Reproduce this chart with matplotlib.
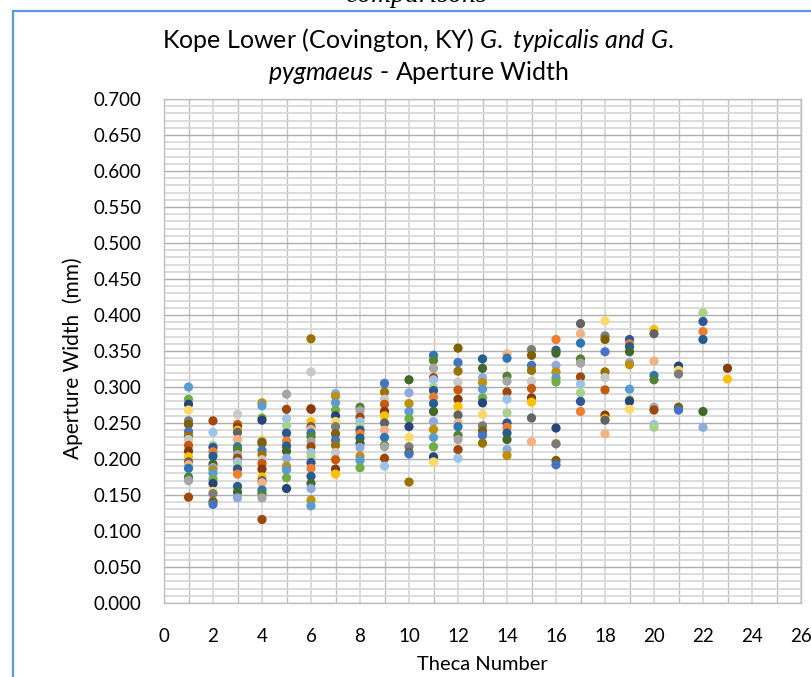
import numpy as np
import matplotlib.pyplot as plt
from matplotlib.ticker import MultipleLocator, FixedLocator, FormatStrFormatter
from matplotlib.lines import Line2D

plt.rcParams['font.family'] = ['Lato', 'DejaVu Sans']
plt.rcParams['mathtext.fontset'] = 'custom'
plt.rcParams['mathtext.rm'] = 'Lato'
plt.rcParams['mathtext.it'] = 'Lato:italic'

# aperture widths (mm), one list per theca number
theca_1 = [0.300, 0.283, 0.276, 0.268, 0.253, 0.248, 0.238, 0.232, 0.227, 0.219,
           0.211, 0.203, 0.196, 0.192, 0.187, 0.175, 0.170, 0.147]
theca_2 = [0.253, 0.237, 0.219, 0.216, 0.210, 0.204, 0.193, 0.188, 0.185, 0.180,
           0.172, 0.166, 0.155, 0.152, 0.141, 0.137]
theca_3 = [0.262, 0.248, 0.244, 0.240, 0.237, 0.227, 0.217, 0.213, 0.206, 0.201,
           0.196, 0.190, 0.186, 0.179, 0.162, 0.154, 0.146]
theca_4 = [0.278, 0.274, 0.257, 0.254, 0.227, 0.224, 0.222, 0.212, 0.206, 0.199,
           0.194, 0.186, 0.175, 0.170, 0.167, 0.157, 0.152, 0.146, 0.116]
theca_5 = [0.290, 0.269, 0.256, 0.246, 0.236, 0.225, 0.218, 0.211, 0.201, 0.190,
           0.185, 0.174, 0.159]
theca_6 = [0.367, 0.321, 0.270, 0.269, 0.252, 0.245, 0.241, 0.236, 0.231, 0.224,
           0.217, 0.209, 0.203, 0.195, 0.187, 0.176, 0.166, 0.159, 0.143, 0.135]
theca_7 = [0.291, 0.287, 0.278, 0.268, 0.260, 0.252, 0.245, 0.235, 0.226, 0.219,
           0.209, 0.199, 0.186, 0.179]
theca_8 = [0.272, 0.267, 0.258, 0.252, 0.245, 0.240, 0.235, 0.229, 0.222, 0.216,
           0.204, 0.198, 0.188]
theca_9 = [0.305, 0.293, 0.283, 0.276, 0.266, 0.260, 0.250, 0.240, 0.230, 0.219,
           0.217, 0.201, 0.190]
theca_10 = [0.310, 0.292, 0.277, 0.266, 0.256, 0.245, 0.230, 0.217, 0.209, 0.207,
            0.168]
theca_11 = [0.344, 0.337, 0.326, 0.313, 0.310, 0.299, 0.295, 0.286, 0.277, 0.266,
            0.252, 0.241, 0.230, 0.217, 0.203, 0.196]
theca_12 = [0.354, 0.334, 0.322, 0.307, 0.296, 0.283, 0.273, 0.261, 0.250, 0.245,
            0.233, 0.227, 0.213, 0.201]
theca_13 = [0.339, 0.326, 0.313, 0.306, 0.297, 0.285, 0.278, 0.262, 0.246, 0.239,
            0.233, 0.222]
theca_14 = [0.346, 0.340, 0.315, 0.308, 0.293, 0.283, 0.264, 0.250, 0.244, 0.236,
            0.227, 0.213, 0.205]
theca_15 = [0.352, 0.344, 0.330, 0.323, 0.308, 0.298, 0.285, 0.279, 0.257, 0.224]
theca_16 = [0.366, 0.351, 0.347, 0.330, 0.321, 0.313, 0.307, 0.243, 0.222, 0.221,
            0.198, 0.192]
theca_17 = [0.388, 0.374, 0.361, 0.339, 0.333, 0.314, 0.304, 0.292, 0.280, 0.266]
theca_18 = [0.392, 0.371, 0.366, 0.349, 0.321, 0.313, 0.296, 0.261, 0.256, 0.254,
            0.235]
theca_19 = [0.366, 0.360, 0.356, 0.349, 0.334, 0.331, 0.297, 0.282, 0.280, 0.269]
theca_20 = [0.380, 0.374, 0.336, 0.316, 0.310, 0.272, 0.268, 0.248, 0.244]
theca_21 = [0.329, 0.323, 0.318, 0.272, 0.268]
theca_22 = [0.403, 0.391, 0.377, 0.366, 0.266, 0.244]
theca_23 = [0.326, 0.311]

widths = [theca_1, theca_2, theca_3, theca_4, theca_5, theca_6, theca_7, theca_8,
          theca_9, theca_10, theca_11, theca_12, theca_13, theca_14, theca_15,
          theca_16, theca_17, theca_18, theca_19, theca_20, theca_21, theca_22,
          theca_23]

# excel 2013 series colours
palette = ['#5B9BD5', '#ED7D31', '#A5A5A5', '#FFC000', '#4472C4', '#70AD47',
           '#255E91', '#9E480E', '#636363', '#997300', '#264478', '#43682B',
           '#9DC3E6', '#F4B183', '#C9C9C9', '#FFD966', '#8FAADC', '#A9D18E',
           '#2E75B6', '#C55A11', '#7B7B7B', '#BF9000', '#2F5597', '#548235',
           '#843C0C', '#7F6000']

fig = plt.figure(figsize=(8.11, 6.77), dpi=100)
ax = fig.add_axes([164 / 811, 74 / 677, 637 / 811, 504 / 677])

for i, col in enumerate(widths):
    x = np.full(len(col), i + 1)
    cols = [palette[(j * 5 + i * 7) % len(palette)] for j in range(len(col))]
    ax.scatter(x, col, s=44, c=cols, linewidths=0, zorder=3)

ax.set_xlim(0, 26)
ax.set_ylim(0, 0.7)
ax.xaxis.set_major_locator(MultipleLocator(2))
ax.xaxis.set_minor_locator(FixedLocator(np.arange(1, 26, 2)))
ax.yaxis.set_major_locator(MultipleLocator(0.05))
ax.yaxis.set_minor_locator(MultipleLocator(0.01))
ax.yaxis.set_major_formatter(FormatStrFormatter('%.3f'))

ax.grid(axis='x', which='major', color='#D9D9D9', lw=1.3, zorder=0)
ax.grid(axis='x', which='minor', color='#BFBFBF', lw=1.0, zorder=0)
ax.grid(axis='y', which='minor', color='#D9D9D9', lw=1.3, zorder=0)
ax.grid(axis='y', which='major', color='#ADADAD', lw=1.0, zorder=1)
ax.set_axisbelow(True)
for s in ax.spines.values():
    s.set_color('#BFBFBF')
    s.set_linewidth(1.0)

ax.tick_params(which='both', length=0)
ax.tick_params(axis='x', labelsize=13.5, pad=18)
ax.tick_params(axis='y', labelsize=13.5, pad=16)

ax.set_xlabel('Theca Number', fontsize=14.5, labelpad=8)
fig.text(73 / 811, 0.471, 'Aperture Width  (mm)', rotation=90, ha='center',
         va='center', fontsize=15)

fig.text(418 / 811, 1 - 40 / 677,
         r'Kope Lower (Covington, KY) $\it{G.\ typicalis\ and\ G.}$',
         ha='center', va='center', fontsize=18)
fig.text(418 / 811, 1 - 73 / 677, r'$\it{pygmaeus}$ - Aperture Width',
         ha='center', va='center', fontsize=18)

# sliver of the page text above the chart
fig.text(416 / 811, 1 - 2 / 677, 'comparisons', ha='center', va='baseline',
         fontsize=20, style='italic', family='Liberation Serif')

# chart frame
fig.add_artist(Line2D([13 / 811, 13 / 811], [0, 1 - 11 / 677], color='#5B9BD5', lw=1.6))
fig.add_artist(Line2D([13 / 811, 1], [1 - 11 / 677, 1 - 11 / 677], color='#5B9BD5', lw=1.6))

fig.savefig('out.png', dpi=100)
